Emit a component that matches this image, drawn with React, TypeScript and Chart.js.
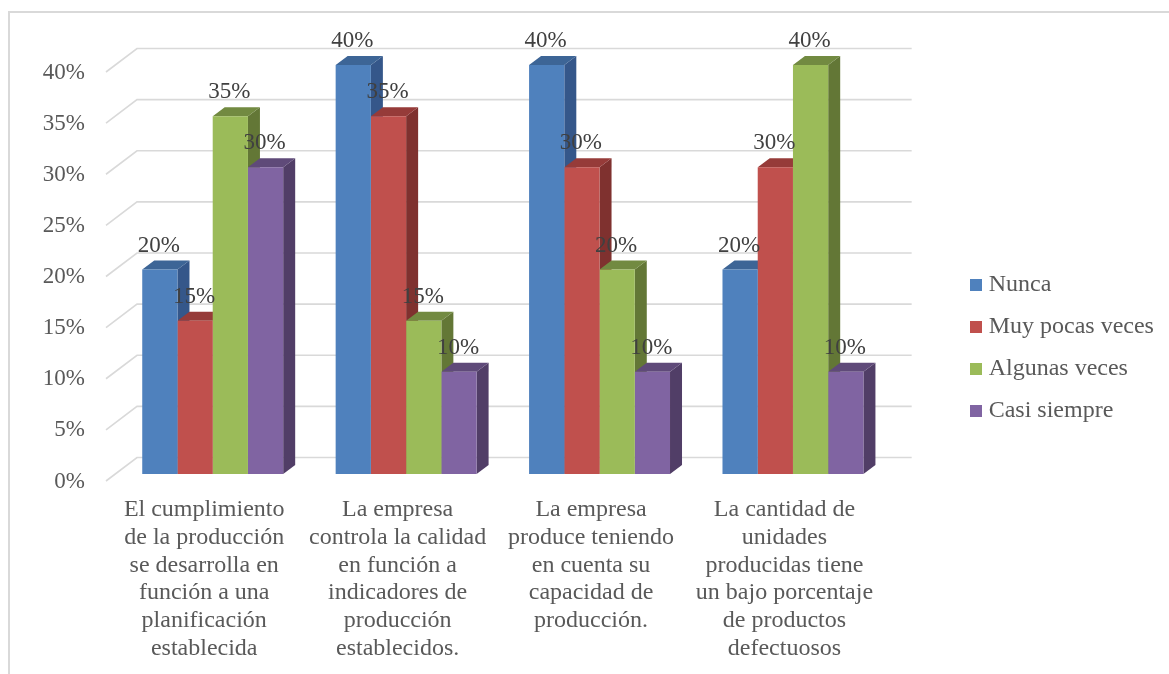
import React, { useEffect, useRef } from "react";
import { Chart, registerables } from "chart.js";

Chart.register(...registerables);

const FONT_FAMILY = '"Liberation Serif", "Times New Roman", serif';

const categories = [
  ["El cumplimiento", "de la producción", "se desarrolla en", "función a una", "planificación", "establecida"],
  ["La empresa", "controla la calidad", "en función a", "indicadores de", "producción", "establecidos."],
  ["La empresa", "produce teniendo", "en cuenta su", "capacidad de", "producción."],
  ["La cantidad de", "unidades", "producidas tiene", "un bajo porcentaje", "de productos", "defectuosos"],
];

const seriesNames = ["Nunca", "Muy pocas veces", "Algunas veces", "Casi siempre"];
const nunca = [20, 40, 40, 20];
const muyPocasVeces = [15, 35, 30, 30];
const algunasVeces = [35, 15, 20, 40];
const casiSiempre = [30, 10, 10, 10];
const seriesValues = [nunca, muyPocasVeces, algunasVeces, casiSiempre];

const frontColors = ["#4F81BD", "#C0504D", "#9BBB59", "#8064A2"];
const topColors = ["#3D6596", "#963B39", "#728A41", "#5F4A79"];
const sideColors = ["#35578A", "#7F312F", "#637736", "#513E67"];

const GRID_COLOR = "#D9D9D9";
const DEPTH_X = 12;
const DEPTH_Y = 9;

// Solid swatch used as the legend marker.
function swatch(color: string) {
  const c = document.createElement("canvas");
  c.width = 12;
  c.height = 12;
  const g = c.getContext("2d")!;
  g.fillStyle = color;
  g.fillRect(0, 0, 12, 12);
  return c;
}

function polygon(ctx: CanvasRenderingContext2D, pts: number[][], fill: string) {
  ctx.beginPath();
  pts.forEach(([x, y], i) => (i ? ctx.lineTo(x, y) : ctx.moveTo(x, y)));
  ctx.closePath();
  ctx.fillStyle = fill;
  ctx.fill();
}

// Draws the floor/wall gridlines and the depth faces behind the bar fronts,
// then the value labels above everything.
const depthPlugin = {
  id: "depthBars",
  afterLayout(chart: any) {
    // Gives the legend text room inside its clip box and moves it left.
    chart.legend.left -= 4;
    chart.legend.right += 4;
  },
  beforeDatasetsDraw(chart: any) {
    const { ctx, scales } = chart;
    const y = scales.y;
    ctx.save();
    ctx.strokeStyle = GRID_COLOR;
    ctx.lineWidth = 1.6;
    y.ticks.forEach((t: any) => {
      const py = y.getPixelForValue(t.value);
      ctx.beginPath();
      ctx.moveTo(y.right - 10, py + 7);
      ctx.lineTo(y.right + 21, py - 16.5);
      ctx.lineTo(scales.x.right + 22, py - 16.5);
      ctx.stroke();
    });
    seriesValues.forEach((_, ds) => {
      chart.getDatasetMeta(ds).data.forEach((bar: any) => {
        const { x, y: top, base, width } = bar.getProps(["x", "y", "base", "width"], true);
        const l = x - width / 2;
        const r = x + width / 2;
        polygon(ctx, [[r, top], [r + DEPTH_X, top - DEPTH_Y], [r + DEPTH_X, base - DEPTH_Y], [r, base]], sideColors[ds]);
        polygon(ctx, [[l, top], [l + DEPTH_X, top - DEPTH_Y], [r + DEPTH_X, top - DEPTH_Y], [r, top]], topColors[ds]);
      });
    });
    ctx.restore();
  },
  afterDatasetsDraw(chart: any) {
    const { ctx } = chart;
    ctx.save();
    ctx.font = `23px ${FONT_FAMILY}`;
    ctx.fillStyle = "#404040";
    ctx.textAlign = "center";
    ctx.textBaseline = "middle";
    seriesValues.forEach((values, ds) => {
      chart.getDatasetMeta(ds).data.forEach((bar: any, i: number) => {
        const { x, y } = bar.getProps(["x", "y"], true);
        ctx.fillText(`${values[i]}%`, x - 1, y - 24);
      });
    });
    ctx.restore();
  },
};

export default function App() {
  const ref = useRef<HTMLCanvasElement>(null);

  useEffect(() => {
    const chart = new Chart(ref.current!, {
      type: "bar",
      data: {
        labels: categories as any,
        datasets: seriesNames.map((label, i) => ({
          label,
          data: seriesValues[i],
          backgroundColor: frontColors[i],
          barPercentage: 1,
          categoryPercentage: 0.7287,
        })),
      },
      options: {
        responsive: false,
        animation: false,
        layout: { padding: { top: 22, bottom: 0, left: 0, right: 15 } },
        scales: {
          x: {
            grid: { display: false, drawTicks: false },
            border: { display: false },
            afterFit: (s: any) => {
              s.height = 200;
            },
            ticks: {
              autoSkip: false,
              maxRotation: 0,
              minRotation: 0,
              padding: 22,
              labelOffset: -8.5,
              color: "#595959",
              font: { family: FONT_FAMILY, size: 24, lineHeight: 1.155 },
            },
          },
          y: {
            min: 0,
            max: 40,
            grid: { display: false, drawTicks: false },
            border: { display: false },
            afterFit: (s: any) => {
              s.width = 116;
            },
            ticks: {
              stepSize: 5,
              padding: 31,
              labelOffset: 7.5,
              color: "#595959",
              font: { family: FONT_FAMILY, size: 23 },
              callback: (v: any) => `${v}%`,
            },
          },
          // Empty axes that hold the margin above the plot and the gap before the legend.
          gapTop: {
            type: "linear",
            axis: "x",
            position: "top",
            display: true,
            grid: { display: false, drawTicks: false },
            border: { display: false },
            ticks: { display: false },
            afterFit: (s: any) => {
              s.height = 43;
            },
          },
          gapRight: {
            type: "linear",
            axis: "y",
            position: "right",
            display: true,
            grid: { display: false, drawTicks: false },
            border: { display: false },
            ticks: { display: false },
            afterFit: (s: any) => {
              s.width = 72;
            },
          },
        },
        plugins: {
          title: { display: false },
          tooltip: { enabled: false },
          legend: {
            position: "right",
            labels: {
              usePointStyle: true,
              boxWidth: 1,
              padding: 18,
              color: "#595959",
              font: { family: FONT_FAMILY, size: 24 },
              generateLabels: () =>
                seriesNames.map((text, i) => ({
                  text,
                  datasetIndex: i,
                  pointStyle: swatch(frontColors[i]),
                  fontColor: "#595959",
                  lineWidth: 0,
                })),
            },
          },
        },
      } as any,
      plugins: [depthPlugin],
    });
    return () => chart.destroy();
  }, []);

  return (
    <div style={{ position: "fixed", inset: 0, background: "#fff", overflow: "hidden" }}>
      <div
        style={{
          position: "absolute",
          left: 8,
          top: 11,
          right: 0,
          bottom: 0,
          borderLeft: "2px solid #D9D9D9",
          borderTop: "2px solid #D9D9D9",
        }}
      />
      <canvas ref={ref} width={1169} height={674} style={{ position: "absolute", left: 0, top: 0 }} />
    </div>
  );
}
